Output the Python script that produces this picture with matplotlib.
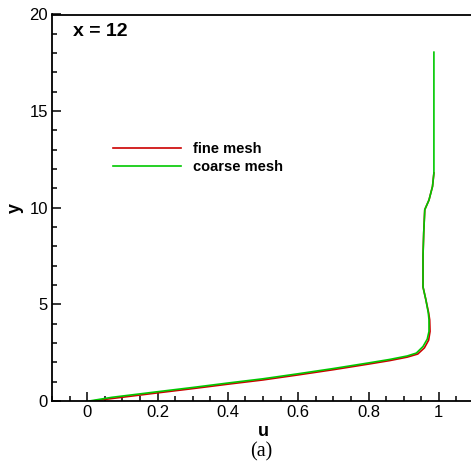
import matplotlib
matplotlib.use('Agg')
import matplotlib.pyplot as plt
from matplotlib.ticker import MultipleLocator

plt.rcParams['font.family'] = ['Liberation Sans', 'DejaVu Sans']

# profile at x = 12
u_coarse = [0.006, 0.07, 0.2, 0.3, 0.4, 0.5, 0.6, 0.7, 0.8, 0.86, 0.91, 0.936,
            0.955, 0.967, 0.972, 0.972, 0.970, 0.963, 0.955, 0.955, 0.957, 0.960,
            0.972, 0.982, 0.986, 0.986]
y_coarse = [0.0, 0.19, 0.48, 0.7, 0.93, 1.15, 1.41, 1.68, 1.97, 2.15, 2.33, 2.48,
            2.82, 3.2, 3.6, 4.2, 4.56, 5.25, 5.9, 7.5, 8.7, 9.9,
            10.4, 11.1, 11.8, 18.05]

u_fine = [0.015, 0.08, 0.2, 0.3, 0.4, 0.5, 0.6, 0.7, 0.8, 0.86, 0.91, 0.94,
          0.959, 0.971, 0.975, 0.974, 0.971, 0.963, 0.955, 0.955, 0.957, 0.960,
          0.972, 0.982, 0.986]
y_fine = [0.0, 0.15, 0.42, 0.64, 0.87, 1.09, 1.35, 1.62, 1.91, 2.09, 2.27, 2.43,
          2.75, 3.15, 3.6, 4.2, 4.56, 5.25, 5.9, 7.5, 8.7, 9.9,
          10.4, 11.1, 11.8]

fig = plt.figure(figsize=(4.71, 4.66), dpi=100)
ax = fig.add_axes([52/471, 65/466, 422/471, 386.5/466])

ax.plot(u_fine, y_fine, color='#cc0000', lw=1.2, label='fine mesh')
ax.plot(u_coarse, y_coarse, color='#00c800', lw=1.2, label='coarse mesh')

ax.set_xlim(-0.1, 1.1)
ax.set_ylim(0, 20)
ax.xaxis.set_major_locator(MultipleLocator(0.2))
ax.xaxis.set_minor_locator(MultipleLocator(0.05))
ax.yaxis.set_major_locator(MultipleLocator(5))
ax.yaxis.set_minor_locator(MultipleLocator(1))
ax.set_xticks([0, 0.2, 0.4, 0.6, 0.8, 1.0])
ax.set_xticklabels(['0', '0.2', '0.4', '0.6', '0.8', '1'])
ax.tick_params(which='both', direction='in', top=False, right=False,
               labelsize=12, width=1.1, pad=3)
ax.tick_params(which='major', length=6.5)
ax.tick_params(which='minor', length=3.5)
for s in ax.spines.values():
    s.set_linewidth(1.3)

ax.text(0.05, 0.955, 'x = 12', transform=ax.transAxes, fontsize=14,
        fontweight='bold', va='center', ha='left')

ax.set_xlabel('u', fontsize=13, fontweight='bold', labelpad=2)
ax.set_ylabel('y', fontsize=13, fontweight='bold', labelpad=4)

leg = ax.legend(loc='upper left', bbox_to_anchor=(0.113, 0.705), frameon=False,
                handlelength=4.65, handletextpad=0.85, labelspacing=0.3,
                prop={'weight': 'bold', 'size': 10.5})

fig.text(261/471, 1 - 452/466, '(a)', fontsize=14.5, family='Liberation Serif',
         ha='center', va='center')

fig.savefig('out.png', dpi=100)
